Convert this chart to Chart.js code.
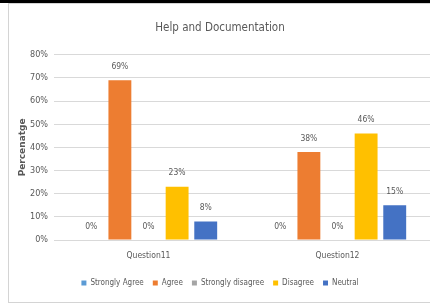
<!DOCTYPE html>
<html lang="en">
  <head>
    <meta charset="UTF-8" />
    <meta name="viewport" content="width=device-width, initial-scale=1.0" />
    <style>
      body {
        margin: 0;
        background-color: rgb(255, 255, 255);
        overflow: hidden;
      }

      .topbar {
        position: absolute;
        left: 0;
        top: 0;
        width: 430px;
        height: 3px;
        background: #000;
      }

      .frame {
        position: absolute;
        left: 8px;
        top: 3px;
        width: 440px;
        height: 298px;
        border: 1px solid #d4d4d4;
      }

      canvas {
        position: absolute;
        left: 8px;
        top: 3px;
      }
    </style>
    <script src="https://cdn.jsdelivr.net/npm/chart.js"></script>
    <title>Help and Documentation</title>
  </head>

  <body>
    <div class="topbar"></div>
    <div class="frame"></div>
    <canvas id="helpChart" width="430" height="299"></canvas>

    <script>
      var questions = ["Question11", "Question12"];
      var stronglyAgree = [0, 0];
      var agree = [69, 38];
      var stronglyDisagree = [0, 0];
      var disagree = [23, 46];
      var neutral = [8, 15];
      var yTicks = [0, 10, 20, 30, 40, 50, 60, 70, 80];

      var font = "'DejaVu Sans Condensed', 'DejaVu Sans', sans-serif";
      var grey = "#595959";

      // value labels above each bar
      var barLabels = {
        id: "barLabels",
        afterDatasetsDraw: function (chart) {
          var ctx = chart.ctx;
          ctx.save();
          ctx.font = "8.5px " + font;
          ctx.fillStyle = grey;
          ctx.textAlign = "center";
          ctx.textBaseline = "middle";
          chart.data.datasets.forEach(function (ds, i) {
            chart.getDatasetMeta(i).data.forEach(function (bar, j) {
              ctx.fillText(ds.data[j] + "%", bar.x, bar.y - 13.5);
            });
          });
          ctx.restore();
        },
      };

      // rotated y title
      var yTitle = {
        id: "yTitle",
        afterDraw: function (chart) {
          var ctx = chart.ctx;
          var a = chart.chartArea;
          ctx.save();
          ctx.translate(15, (a.top + a.bottom) / 2);
          ctx.rotate(-Math.PI / 2);
          ctx.font = "bold 9px 'DejaVu Sans', sans-serif";
          ctx.fillStyle = grey;
          ctx.textAlign = "center";
          ctx.textBaseline = "middle";
          ctx.fillText("Percenatge", 0, 0);
          ctx.restore();
        },
      };

      var ctx = document.getElementById("helpChart").getContext("2d");
      var myChart = new Chart(ctx, {
        type: "bar",
        data: {
          labels: questions,
          datasets: [
            { label: "Strongly Agree", data: stronglyAgree, backgroundColor: "#5B9BD5" },
            { label: "Agree", data: agree, backgroundColor: "#ED7D31" },
            { label: "Strongly disagree", data: stronglyDisagree, backgroundColor: "#A5A5A5" },
            { label: "Disagree", data: disagree, backgroundColor: "#FFC000" },
            { label: "Neutral", data: neutral, backgroundColor: "#4472C4" },
          ],
        },
        options: {
          responsive: false,
          animation: false,
          categoryPercentage: 0.757,
          barPercentage: 0.8,
          layout: {
            padding: { left: 0, right: 6, top: 0, bottom: 5 },
          },
          plugins: {
            title: {
              display: true,
              text: "Help and Documentation",
              color: grey,
              font: { family: font, size: 11.5, weight: "normal" },
              padding: { top: 18, bottom: 20 },
            },
            legend: {
              position: "bottom",
              labels: {
                color: grey,
                font: { family: font, size: 8 },
                boxWidth: 5,
                boxHeight: 5,
                padding: 9,
              },
            },
            tooltip: { enabled: false },
          },
          scales: {
            x: {
              grid: { display: false },
              border: { color: "#d9d9d9" },
              afterFit: function (scale) {
                scale.height = 30;
              },
              ticks: {
                color: grey,
                font: { family: font, size: 8.5 },
                padding: 3,
              },
            },
            y: {
              min: 0,
              max: 80,
              afterFit: function (scale) {
                scale.width = 46;
              },
              afterBuildTicks: function (scale) {
                scale.ticks = yTicks.map(function (v) {
                  return { value: v };
                });
              },
              grid: { color: "#d9d9d9", drawTicks: false },
              border: { display: false },
              ticks: {
                color: grey,
                font: { family: font, size: 9 },
                padding: 6,
                callback: function (v) {
                  return v + "%";
                },
              },
            },
          },
        },
        plugins: [barLabels, yTitle],
      });
    </script>
  </body>
</html>
